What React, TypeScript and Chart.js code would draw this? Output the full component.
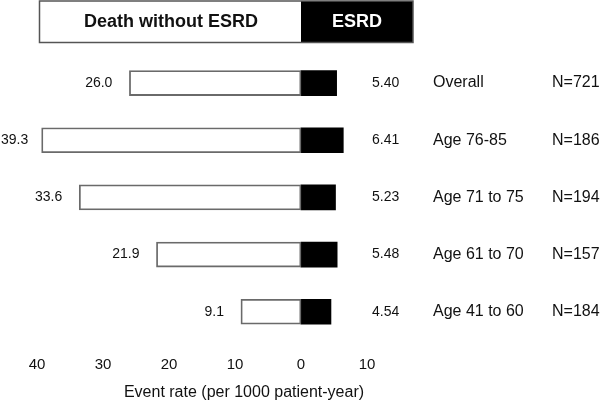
import React, { useEffect, useRef } from "react";
import { Chart, registerables } from "chart.js";

Chart.register(...registerables);

const categories = ["Overall", "Age 76-85", "Age 71 to 75", "Age 61 to 70", "Age 41 to 60"];
const sampleSizes = ["N=721", "N=186", "N=194", "N=157", "N=184"];
const deathRates = [26.0, 39.3, 33.6, 21.9, 9.1];
const esrdRates = [5.4, 6.41, 5.23, 5.48, 4.54];
const seriesNames = ["Death without ESRD", "ESRD"];
const axisTitle = "Event rate (per 1000 patient-year)";
const xMin = -40;
const xMax = 10;
const xStep = 10;

const FONT = "'Liberation Sans', Arial, Helvetica, sans-serif";

const annotationPlugin = {
  id: "annotations",
  afterDraw(chart: any) {
    const ctx = chart.ctx;
    const x = chart.scales.x;
    const y = chart.scales.y;
    const zero = x.getPixelForValue(0);
    ctx.save();

    // Legend box
    const boxL = 39.5;
    const boxR = 413;
    const boxT = 1;
    const boxB = 42.5;
    ctx.fillStyle = "#ffffff";
    ctx.fillRect(boxL, boxT, zero - boxL, boxB - boxT);
    ctx.fillStyle = "#000000";
    ctx.fillRect(zero, boxT, boxR - zero, boxB - boxT);
    ctx.strokeStyle = "#555555";
    ctx.lineWidth = 1.5;
    ctx.strokeRect(boxL, boxT, boxR - boxL, boxB - boxT);
    ctx.font = `bold 18px ${FONT}`;
    ctx.textBaseline = "middle";
    ctx.textAlign = "center";
    ctx.fillStyle = "#111111";
    ctx.fillText(seriesNames[0], 171, 22);
    ctx.fillStyle = "#ffffff";
    ctx.fillText(seriesNames[1], 357, 22);

    // Row annotations
    const deathMeta = chart.getDatasetMeta(0);
    categories.forEach((cat, i) => {
      const cy = y.getPixelForValue(i);
      const bar = deathMeta.data[i];
      ctx.fillStyle = "#111111";
      ctx.font = `14px ${FONT}`;
      const txt = deathRates[i].toFixed(1);
      const w = ctx.measureText(txt).width;
      ctx.textAlign = "right";
      ctx.fillText(txt, Math.max(bar.x - 17, w + 1), cy);
      ctx.textAlign = "left";
      ctx.fillText(esrdRates[i].toFixed(2), 372, cy);
      ctx.font = `16px ${FONT}`;
      ctx.fillText(cat, 433, cy);
      ctx.fillText(sampleSizes[i], 552, cy);
    });

    // Axis title
    ctx.font = `16px ${FONT}`;
    ctx.textAlign = "center";
    ctx.fillStyle = "#111111";
    ctx.fillText(axisTitle, 244, 393);
    ctx.restore();
  },
};

export default function App() {
  const canvasRef = useRef<HTMLCanvasElement | null>(null);

  useEffect(() => {
    document.body.style.margin = "0";
    const canvas = canvasRef.current;
    if (!canvas) return;
    const chart = new Chart(canvas, {
      type: "bar",
      data: {
        labels: categories,
        datasets: [
          {
            label: seriesNames[0],
            data: deathRates.map((v) => -v),
            backgroundColor: "#ffffff",
            borderColor: "#6a6a6a",
            borderWidth: 1.8,
            borderSkipped: false,
            barThickness: 25,
          },
          {
            label: seriesNames[1],
            data: esrdRates,
            backgroundColor: "#000000",
            borderColor: "#000000",
            borderWidth: 0,
            barThickness: 25,
          },
        ],
      },
      options: {
        indexAxis: "y",
        animation: false,
        responsive: true,
        maintainAspectRatio: false,
        layout: { padding: { left: 37, right: 233, top: 54.5, bottom: 14.7 } },
        plugins: {
          legend: { display: false },
          tooltip: { enabled: false },
          title: { display: false },
        },
        scales: {
          x: {
            type: "linear",
            min: xMin,
            max: xMax,
            stacked: true,
            grid: { display: false, drawTicks: false },
            border: { display: false },
            ticks: {
              stepSize: xStep,
              padding: 16,
              color: "#111111",
              font: { family: FONT, size: 15 },
              callback: (v: any) => String(Math.abs(Number(v))),
            },
          },
          y: {
            type: "category",
            stacked: true,
            display: false,
            grid: { display: false },
          },
        },
      },
      plugins: [annotationPlugin],
    });
    return () => chart.destroy();
  }, []);

  return (
    <div style={{ width: 600, height: 405, position: "relative", background: "#fff" }}>
      <canvas ref={canvasRef} />
    </div>
  );
}
